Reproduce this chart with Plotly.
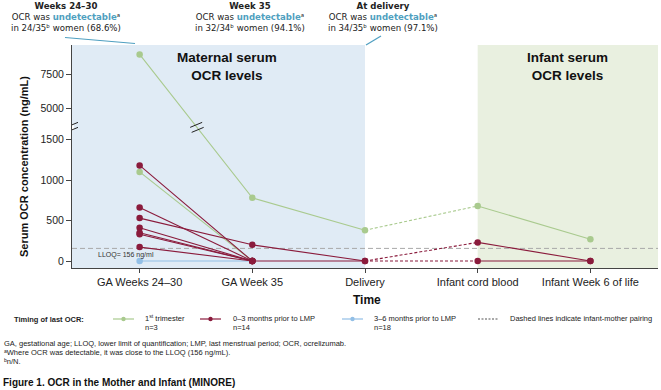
import plotly.graph_objects as go

# ---------------- data ----------------
timepoints = ["GA Weeks 24–30", "GA Week 35", "Delivery", "Infant cord blood", "Infant Week 6 of life"]
# serum OCR (ng/mL) per mother-infant pair; None = not shown
first_trimester = [
    [9000, 780, 380, 680, 270],
    [1100, 0, None, None, None],
]
months_0_3 = [
    [1180, 0, 0, 0, 0],
    [660, 0, None, None, None],
    [530, 200, 0, 230, 0],
    [410, 0, None, None, None],
    [350, 0, None, None, None],
    [330, 0, None, None, None],
    [172, 0, None, None, None],
]
months_3_6 = [
    [0, 0, None, None, None],
]
y_tick_values = [0, 500, 1000, 1500, 5000, 7500]
lloq = 156

# ---------------- broken-axis scale ----------------
LOW_TOP = 1650      # top of lower segment (ng/mL)
UP_BOTTOM = 3600    # bottom of upper segment (ng/mL)
UP_SCALE = 1 / 6    # compression of upper segment


def t(v):
    if v is None:
        return None
    return v if v <= LOW_TOP else LOW_TOP + (v - UP_BOTTOM) * UP_SCALE


# ---------------- geometry helpers ----------------
W, H = 661, 390
L, R, T, B = 72, 3, 45, 122
PW, PH = W - L - R, H - T - B


def ax(px):
    return (px - L) / PW


def ay(py):
    return (H - B - py) / PH


GREEN = "#a9ca8e"
MAROON = "#8a1b3c"
BLUE = "#92bfe6"
TEAL = "#4f9fc0"
AXC = "#444444"
FONT = "Liberation Sans, Arial, sans-serif"
HFONT = "DejaVu Sans, sans-serif"

fig = go.Figure()

groups = [(months_3_6, BLUE), (first_trimester, GREEN), (months_0_3, MAROON)]
segments = [([0, 1, 2], "solid"), ([2, 3], "3px,2px"), ([3, 4], "solid")]

for group, color in groups:
    for vals in group:
        for idx, dash in segments:
            xs = [i for i in idx if vals[i] is not None]
            if len(xs) < 2:
                continue
            fig.add_trace(go.Scatter(
                x=xs, y=[t(vals[i]) for i in xs], mode="lines",
                line=dict(color=color, width=1.1, dash=dash),
                hoverinfo="skip", showlegend=False))
for group, color in groups:
    for vals in group:
        xs = [i for i in range(len(vals)) if vals[i] is not None]
        fig.add_trace(go.Scatter(
            x=xs, y=[t(vals[i]) for i in xs], mode="markers",
            marker=dict(color=color, size=6.5),
            hoverinfo="skip", showlegend=False))

shapes = []
# shaded regions
shapes.append(dict(type="rect", xref="x", yref="paper", x0=-0.6, x1=2, y0=0, y1=1,
                   fillcolor="#e0ebf5", line_width=0, layer="below"))
shapes.append(dict(type="rect", xref="x", yref="paper", x0=3, x1=4.6, y0=0, y1=1,
                   fillcolor="#e9f0e0", line_width=0, layer="below"))
# LLOQ line
shapes.append(dict(type="line", xref="paper", yref="y", x0=0, x1=1, y0=lloq, y1=lloq,
                   line=dict(color="#a8a8a8", width=1, dash="5px,3px"), layer="below"))

# break marks on y axis
shapes.append(dict(type="rect", xref="x", yref="y", xsizemode="pixel", ysizemode="pixel",
                   xanchor=-0.6, yanchor=LOW_TOP, x0=-2, x1=2, y0=-3, y1=3,
                   fillcolor="white", line_width=0, layer="above"))
for off in (-2.5, 2.5):
    shapes.append(dict(type="line", xref="x", yref="y", xsizemode="pixel", ysizemode="pixel",
                       xanchor=-0.6, yanchor=LOW_TOP, x0=-6, x1=6, y0=off - 2.5, y1=off + 2.5,
                       line=dict(color="#222", width=1), layer="above"))
# break marks on the green line crossing the gap
g = first_trimester[0]
y0v, y1v = t(g[0]), t(g[1])
xc = (y0v - LOW_TOP) / (y0v - y1v)
for off in (-2.5, 2.5):
    shapes.append(dict(type="line", xref="x", yref="y", xsizemode="pixel", ysizemode="pixel",
                       xanchor=xc, yanchor=LOW_TOP, x0=-6 - off * 0.3, x1=6 - off * 0.3,
                       y0=off - 2.5, y1=off + 2.5,
                       line=dict(color="#222", width=1), layer="above"))

# header pointer lines
shapes.append(dict(type="line", xref="paper", yref="paper", x0=ax(65), y0=ay(37.5), x1=ax(135), y1=ay(43.5),
                   line=dict(color=TEAL, width=1.2)))
shapes.append(dict(type="line", xref="paper", yref="paper", x0=ax(366), y0=ay(45), x1=ax(381), y1=ay(36),
                   line=dict(color=TEAL, width=1.2)))

# legend samples
leg_y = ay(319)
for x0, x1, color, dash in [(113, 134, GREEN, "solid"), (200, 221, MAROON, "solid"),
                             (342, 363, BLUE, "solid"), (478, 499, "#555", "2px,1.5px")]:
    shapes.append(dict(type="line", xref="paper", yref="paper", x0=ax(x0), x1=ax(x1), y0=leg_y, y1=leg_y,
                       line=dict(color=color, width=1.2, dash=dash)))
    if dash == "solid":
        cx = (x0 + x1) / 2
        shapes.append(dict(type="circle", xref="paper", yref="paper",
                           x0=ax(cx - 2.2), x1=ax(cx + 2.2), y0=ay(319 + 2.2), y1=ay(319 - 2.2),
                           fillcolor=color, line_width=0))

annotations = []


def ann(text, px, py, size, bold=False, color="#222", xanchor="center", family=FONT, **kw):
    if bold:
        text = "<b>" + text + "</b>"
    annotations.append(dict(text=text, x=ax(px), y=ay(py), xref="paper", yref="paper",
                            showarrow=False, xanchor=xanchor, yanchor="middle",
                            font=dict(size=size, color=color, family=family), **kw))


und = "<span style='color:%s'><b>undetectable</b></span>ᵃ" % TEAL
for cx, head, line3 in [(66, "Weeks 24–30", "in 24/35ᵇ women (68.6%)"),
                        (250, "Week 35", "in 32/34ᵇ women (94.1%)"),
                        (383, "At delivery", "in 34/35ᵇ women (97.1%)")]:
    ann("<b>" + head + "</b><br>OCR was " + und + "<br>" + line3, cx, 17.3, 8.6,
        color="#222", family=HFONT)

ann("Maternal serum<br>OCR levels", 227, 67, 13.5, bold=True, color="#111")
ann("Infant serum<br>OCR levels", 567, 67, 13.5, bold=True, color="#111")
ann("LLOQ= 156 ng/ml", 96, 255, 7, color="#333", xanchor="left")
ann("Serum OCR concentration (ng/mL)", 24, 167, 11, bold=True, color="#111", textangle=-90)
ann("Time", 367, 300, 12, bold=True, color="#111")

# legend text
ann("Timing of last OCR:", 12, 319, 7.5, bold=True, xanchor="left")
ann("1<sup>st</sup> trimester", 143, 318, 7.5, xanchor="left")
ann("n=3", 143, 327, 7.5, xanchor="left")
ann("0–3 months prior to LMP", 231, 318, 7.5, xanchor="left")
ann("n=14", 231, 327, 7.5, xanchor="left")
ann("3–6 months prior to LMP", 372, 318, 7.5, xanchor="left")
ann("n=18", 372, 327, 7.5, xanchor="left")
ann("Dashed lines indicate infant-mother pairing", 508, 318, 7.5, xanchor="left")

# footnotes
ann("GA, gestational age; LLOQ, lower limit of quantification; LMP, last menstrual period; OCR, ocrelizumab.",
    2, 343, 7.5, xanchor="left")
ann("ᵃWhere OCR was detectable, it was close to the LLOQ (156 ng/mL).", 2, 352, 7.5, xanchor="left")
ann("ᵇn/N.", 2, 361, 7.5, xanchor="left")
ann("Figure 1. OCR in the Mother and Infant (MINORE)", 1, 382, 10, bold=True, color="#111", xanchor="left")

fig.update_layout(
    width=W, height=H,
    margin=dict(l=L, r=R, t=T, b=B, pad=0),
    paper_bgcolor="white", plot_bgcolor="white",
    showlegend=False,
    shapes=shapes, annotations=annotations,
    xaxis=dict(range=[-0.6, 4.6], tickvals=list(range(len(timepoints))), ticktext=timepoints,
               showline=True, linecolor=AXC, linewidth=1, ticks="outside", ticklen=4, tickcolor=AXC,
               tickfont=dict(size=11, color="#222", family=FONT), showgrid=False, zeroline=False,
               fixedrange=True),
    yaxis=dict(range=[-86, t(9700)], tickvals=[t(v) for v in y_tick_values],
               ticktext=[str(v) for v in y_tick_values],
               showline=True, linecolor=AXC, linewidth=1, ticks="outside", ticklen=5, tickcolor=AXC,
               tickfont=dict(size=10.5, color="#222", family=FONT), showgrid=False, zeroline=False,
               fixedrange=True),
)

fig.write_html("out.html")
